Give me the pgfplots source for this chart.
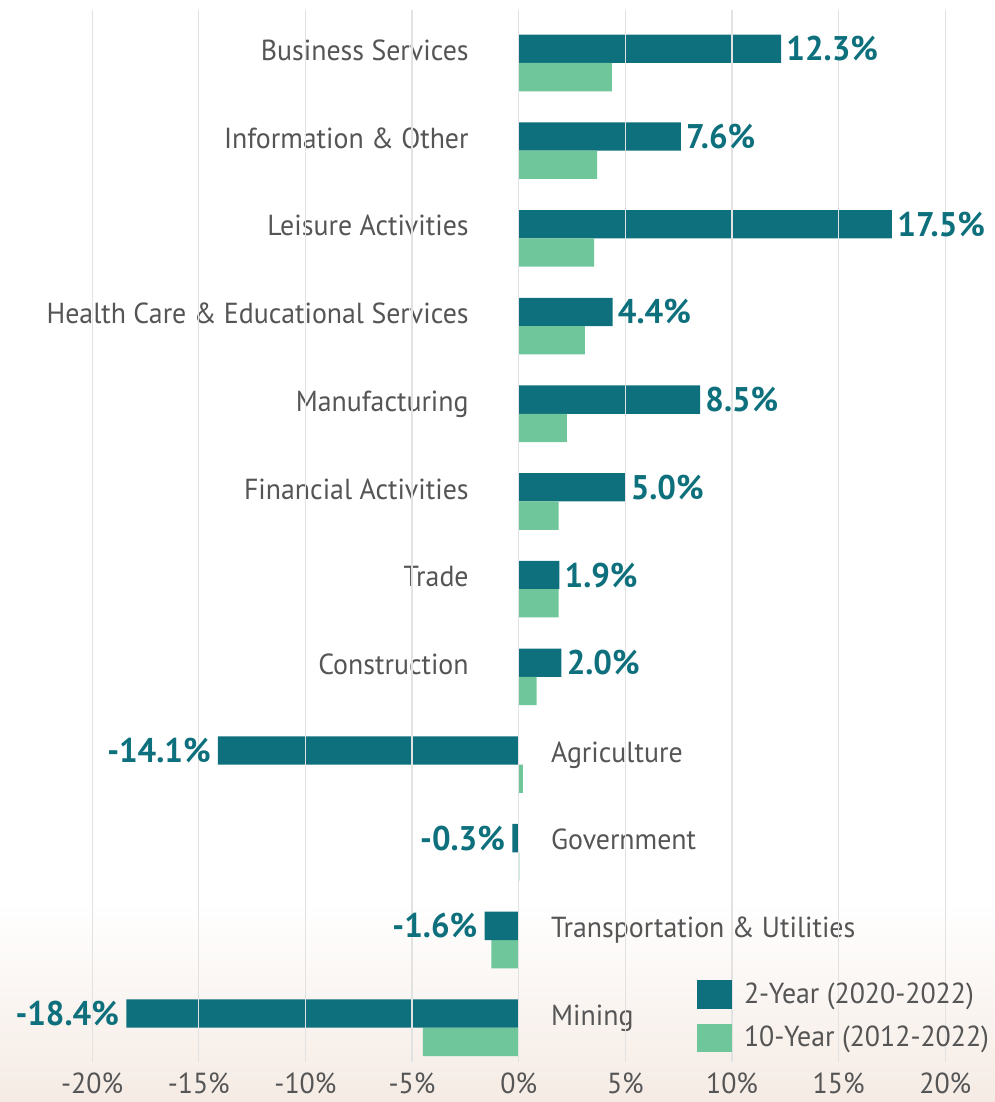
\documentclass[border=0pt]{standalone}
\usepackage{fontspec}
\setmainfont{PT Sans}[FakeStretch=0.96]
\usepackage{pgfplots}
\pgfplotsset{compat=1.18}
\usetikzlibrary{backgrounds}
\definecolor{tealc}{RGB}{13,112,124}
\definecolor{mint}{RGB}{110,198,154}
\definecolor{txt}{RGB}{85,85,85}
\definecolor{gridc}{RGB}{226,226,226}
\definecolor{sand}{RGB}{245,235,228}
\tikzset{lbl/.style={font=\bfseries\fontsize{17.1}{19}\selectfont, text=tealc, inner sep=2.5pt}}
\begin{document}
\begin{tikzpicture}
\begin{axis}[
  scale only axis, width=497.5pt, height=526pt,
  xmin=-24.32, xmax=22.33, ymin=-0.391, ymax=11.604,
  xbar, bar width=14.15pt,
  axis line style={draw=none}, major tick length=0pt,
  xtick={-20,-15,-10,-5,0,5,10,15,20},
  xticklabels={-20\%,-15\%,-10\%,-5\%,0\%,5\%,10\%,15\%,20\%},
  ytick=\empty,
  xmajorgrids, grid style={gridc, line width=0.6pt},
  axis on top,
  ticklabel style={font=\fontsize{14.5}{16}\selectfont, text=txt},
  xticklabel style={yshift=-2pt},
  legend style={draw=none, fill=none, at={(axis cs:8.34,0.567)}, anchor=north west,
    font=\fontsize{14.5}{16}\selectfont, text=txt, row sep=6pt, inner sep=0pt,
    nodes={inner xsep=6pt}},
  legend cell align=left,
  legend image code/.code={\fill[#1] (0pt,-7.17pt) rectangle (17.5pt,7.17pt);},
]
\addplot[fill=tealc, draw=none, bar shift=7.075pt, point meta=explicit symbolic,
  nodes near coords, nodes near coords style={lbl, anchor=west}]
coordinates {
(12.3,11) [12.3\%]
(7.6,10) [7.6\%]
(17.5,9) [17.5\%]
(4.4,8) [4.4\%]
(8.5,7) [8.5\%]
(5.0,6) [5.0\%]
(1.9,5) [1.9\%]
(2.0,4) [2.0\%]
};
\addlegendentry{2-Year (2020-2022)}
\addplot[fill=mint, draw=none, bar shift=-7.075pt]
coordinates {
(4.37,11) (3.67,10) (3.54,9) (3.10,8) (2.26,7) (1.87,6)
(1.87,5) (0.84,4) (0.19,3) (0.03,2) (-1.28,1) (-4.49,0)
};
\addlegendentry{10-Year (2012-2022)}
\addplot[fill=tealc, draw=none, bar shift=7.075pt, point meta=explicit symbolic, forget plot,
  nodes near coords, nodes near coords style={lbl, anchor=east, inner sep=3.5pt}]
coordinates {
(-14.1,3) [-14.1\%]
(-0.3,2) [-0.3\%]
(-1.6,1) [-1.6\%]
(-18.4,0) [-18.4\%]
};
\begin{scope}[every node/.style={font=\fontsize{14.5}{16}\selectfont, text=txt, inner sep=0pt}]
\node[anchor=base east] at (axis cs:-2.33,11.028) {Business Services};
\node[anchor=base east] at (axis cs:-2.33,10.028) {Information \& Other};
\node[anchor=base east] at (axis cs:-2.33,9.028) {Leisure Activities};
\node[anchor=base east] at (axis cs:-2.33,8.028) {Health Care \& Educational Services};
\node[anchor=base east] at (axis cs:-2.33,7.028) {Manufacturing};
\node[anchor=base east] at (axis cs:-2.33,6.028) {Financial Activities};
\node[anchor=base east] at (axis cs:-2.33,5.028) {Trade};
\node[anchor=base east] at (axis cs:-2.33,4.028) {Construction};
\node[anchor=base west] at (axis cs:1.5,3.028) {Agriculture};
\node[anchor=base west] at (axis cs:1.5,2.028) {Government};
\node[anchor=base west] at (axis cs:1.5,1.028) {Transportation \& Utilities};
\node[anchor=base west] at (axis cs:1.5,0.028) {Mining};
\end{scope}
\end{axis}
\begin{scope}[on background layer]
\shade[top color=white, bottom color=sand] ([yshift=-20pt]current axis.south west) rectangle ([yshift=80pt]current axis.south east);
\end{scope}
\pgfresetboundingbox
\useasboundingbox ([yshift=-20pt]current axis.south west) rectangle ([yshift=5pt]current axis.north east);
\end{tikzpicture}
\end{document}
